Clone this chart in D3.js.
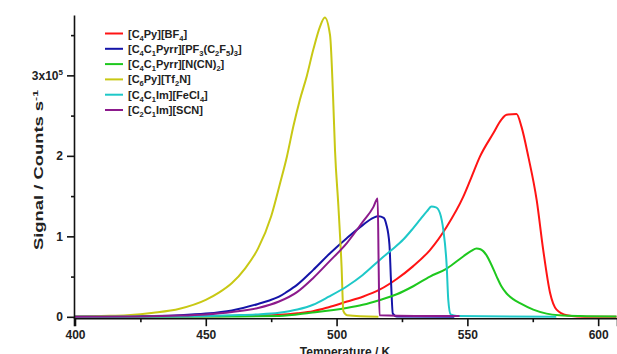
<!DOCTYPE html>
<html>
<head>
<meta charset="utf-8">
<script src="https://cdn.jsdelivr.net/npm/d3@7"></script>
<style>
body { margin: 0; background: #fff; }
text { font-family: "Liberation Sans", Arial, sans-serif; font-weight: bold; fill: #222; }
</style>
</head>
<body>
<svg width="617" height="354"></svg>
<script>
// signal values in units of 1e5 counts/s, temperature in K
var bf4 = [[400,0],[440,0.003],[460,0.01],[470,0.015],[478,0.025],[485,0.045],[491,0.07],[497,0.12],[504,0.19],[510,0.25],[516.6,0.34],[523,0.47],[529.3,0.63],[535.7,0.83],[542.1,1.12],[548.4,1.49],[551.5,1.73],[554.8,1.99],[559.9,2.28],[563,2.45],[565,2.51],[568.8,2.52],[570.7,2.36],[573.3,1.99],[576.5,1.45],[579,0.83],[581.6,0.30],[584.1,0.09],[588,0.02],[592,0.005],[607,0]];
var pf3 = [[400,0],[420,0.005],[430,0.01],[440,0.02],[450,0.04],[460,0.08],[470,0.16],[474,0.20],[478,0.25],[481,0.31],[485,0.40],[491,0.58],[497.5,0.79],[504,0.98],[510,1.14],[514,1.23],[516,1.25],[518,1.23],[519,1.15],[520.2,0.9],[520.8,0.45],[521.5,0.04],[523,0.005],[545,0]];
var dca = [[400,0],[460,0.005],[478,0.01],[490,0.05],[503.8,0.11],[510,0.15],[516.6,0.21],[523,0.28],[529.3,0.38],[535.7,0.50],[542.1,0.60],[548.4,0.75],[551.5,0.82],[553.5,0.85],[555,0.84],[557.4,0.76],[559,0.66],[561.2,0.50],[563,0.38],[565,0.29],[567.5,0.22],[570.1,0.17],[575.2,0.09],[580.3,0.04],[585,0.02],[593,0.01],[607,0.005]];
var tf2n = [[400,0],[410,0.01],[420,0.02],[430,0.05],[440,0.10],[450,0.21],[455,0.30],[460,0.42],[465,0.60],[470,0.85],[475,1.25],[478.4,1.66],[481,1.99],[483.5,2.37],[486,2.70],[488.6,2.99],[491.1,3.32],[493.7,3.61],[495.5,3.72],[497.5,3.50],[498.7,2.70],[499.4,2.07],[500.7,1.37],[501.9,0.63],[502.6,0.07],[504,0.02],[516,0]];
var fecl4 = [[400,0],[440,0.005],[460,0.02],[470,0.03],[478,0.05],[485,0.09],[491,0.15],[497,0.25],[504,0.38],[510,0.52],[516.6,0.71],[521,0.83],[525.5,0.96],[529,1.09],[532,1.21],[534.5,1.31],[536.3,1.37],[538,1.36],[539.5,1.29],[540.8,1.08],[542.1,0.63],[542.7,0.21],[543.6,0.03],[546,0.01],[584,0]];
var scn = [[400,0],[420,0.004],[440,0.015],[450,0.03],[460,0.06],[470,0.11],[478,0.19],[485,0.31],[491,0.48],[497,0.68],[504,0.92],[510,1.18],[514,1.36],[515.7,1.47],[516.1,0.6],[516.4,0.02],[530,0.01],[547,0.01]];

var names = ["[C_4Py][BF_4]", "[C_4C_1Pyrr][PF_3(C_2F_5)_3]", "[C_4C_1Pyrr][N(CN)_2]", "[C_6Py][Tf_2N]", "[C_4C_1Im][FeCl_4]", "[C_2C_1Im][SCN]"];
var colors = ["#ff1414", "#1414a8", "#1ec81e", "#c8c814", "#1ec8c8", "#8c1a8c"];
var series = [bf4, pf3, dca, tf2n, fecl4, scn];

var xMajor = [400, 450, 500, 550, 600];
var xMinor = [425, 475, 525, 575];
var yMajor = [0, 1, 2, 3];
var yMinor = [0.5, 1.5, 2.5, 3.5];

var svg = d3.select("svg");

var x = d3.scaleLinear().domain([399.62, 607.2]).range([74, 617]);
var y = d3.scaleLinear().domain([-0.017, 3.75]).range([318.2, 15]);

var line = d3.line()
    .x(function (d) { return x(d[0]); })
    .y(function (d) { return y(d[1]); })
    .curve(d3.curveMonotoneX);

svg.append("g")
    .selectAll("path")
    .data(series)
    .enter()
    .append("path")
    .attr("d", line)
    .attr("fill", "none")
    .attr("stroke", function (d, i) { return colors[i]; })
    .attr("stroke-width", 2);

// axes
svg.append("g")
    .attr("transform", "translate(0," + y(-0.017) + ")")
    .call(d3.axisBottom(x).tickValues(xMajor).tickSize(8).tickPadding(4));
svg.append("g")
    .attr("transform", "translate(0," + y(-0.017) + ")")
    .call(d3.axisBottom(x).tickValues(xMinor).tickSize(4).tickFormat(""))
    .select(".domain").remove();

var yAxis = svg.append("g")
    .attr("transform", "translate(74,0)")
    .call(d3.axisLeft(y).tickValues(yMajor).tickSize(7).tickPadding(4)
        .tickSizeOuter(0).tickFormat(d3.format("d")));
svg.append("g")
    .attr("transform", "translate(74,0)")
    .call(d3.axisLeft(y).tickValues(yMinor).tickSize(3).tickFormat(""))
    .select(".domain").remove();

svg.selectAll(".domain").attr("stroke", "#111").attr("stroke-width", 1.6);
svg.selectAll(".tick line").attr("stroke", "#111").attr("stroke-width", 1.6);
svg.selectAll(".tick text").attr("font-size", 12).attr("font-family", null);

yAxis.selectAll(".tick text").each(function (d) {
    if (d === 3) {
        var t = d3.select(this);
        t.text("3x10");
        t.append("tspan").attr("dy", -5).attr("font-size", 8).text("5");
    }
});

// axis titles
svg.append("text")
    .attr("x", 345).attr("y", 356)
    .attr("text-anchor", "middle")
    .attr("font-size", 12)
    .text("Temperature / K");

var yt = svg.append("text")
    .attr("transform", "translate(43,170) rotate(-90)")
    .attr("text-anchor", "middle")
    .attr("font-size", 12)
    .attr("textLength", 160)
    .attr("lengthAdjust", "spacingAndGlyphs");
yt.append("tspan").text("Signal / Counts s");
yt.append("tspan").attr("dy", -5).attr("font-size", 8).text("-1");

// legend
var legend = svg.append("g").attr("transform", "translate(105,33.5)");
var rows = legend.selectAll("g")
    .data(names)
    .enter()
    .append("g")
    .attr("transform", function (d, i) { return "translate(0," + i * 15.3 + ")"; });

rows.append("line")
    .attr("x1", 0).attr("x2", 18)
    .attr("stroke", function (d, i) { return colors[i]; })
    .attr("stroke-width", 2);

rows.append("text")
    .attr("x", 23).attr("y", 4)
    .attr("font-size", 11)
    .each(function (d) {
        var t = d3.select(this);
        var parts = d.split(/_(\d)/);
        var shift = 0;
        parts.forEach(function (p, k) {
            if (p === "") return;
            if (k % 2 === 1) {
                t.append("tspan").attr("dy", 3 - shift).attr("font-size", 7.5).text(p);
                shift = 3;
            } else {
                t.append("tspan").attr("dy", -shift).text(p);
                shift = 0;
            }
        });
    });
</script>
</body>
</html>
